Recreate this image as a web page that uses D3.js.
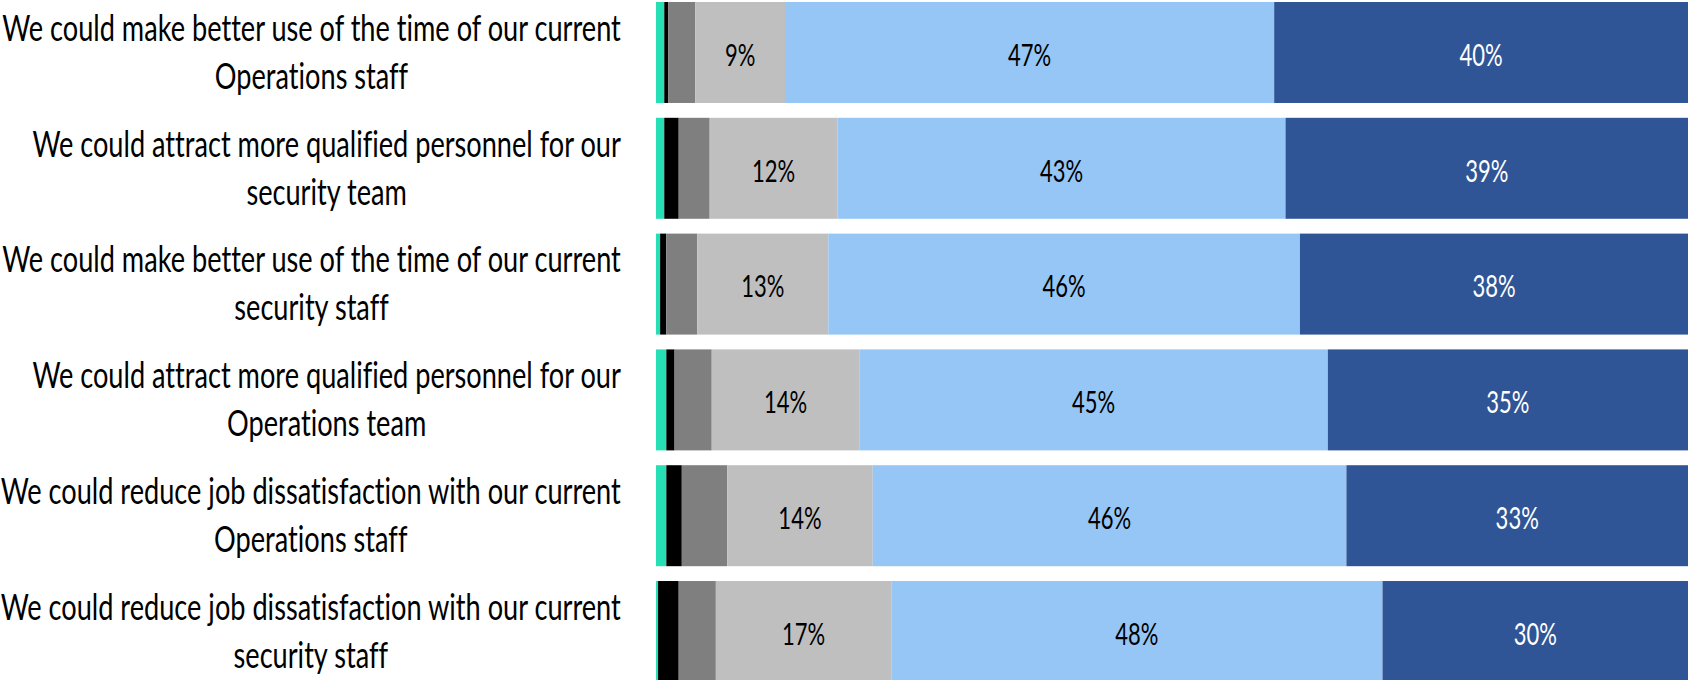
<!DOCTYPE html>
<html>
<head>
<meta charset="utf-8">
<script src="https://cdn.jsdelivr.net/npm/d3@7"></script>
<style>
    body { margin: 0; background: #fff; }
    text { font-family: Lato, "Open Sans", sans-serif; font-variant-ligatures: none; }
</style>
</head>
<body>
<div id="wrapper"></div>
<script>
const categories = [
    "We could make better use of the time of our current\nOperations staff",
    "We could attract more qualified personnel for our\nsecurity team",
    "We could make better use of the time of our current\nsecurity staff",
    "We could attract more qualified personnel for our\nOperations team",
    "We could reduce job dissatisfaction with our current\nOperations staff",
    "We could reduce job dissatisfaction with our current\nsecurity staff"
];
const seriesNames = ["Don't know", "Strongly disagree", "Disagree", "Neutral", "Agree", "Strongly agree"];
const dontKnow = [0.8, 0.8, 0.4, 1.0, 1.0, 0.2];
const stronglyDisagree = [0.4, 1.4, 0.6, 0.8, 1.5, 2.0];
const disagree = [2.6, 3.0, 3.0, 3.6, 4.4, 3.6];
const neutral = [8.7, 12.4, 12.7, 14.3, 14.1, 17.0];
const agree = [47.4, 43.4, 45.7, 45.4, 45.9, 47.6];
const stronglyAgree = [40.1, 39.0, 37.6, 34.9, 33.1, 29.6];

const colors = ["#27dfb4", "#000000", "#7f7f7f", "#bfbfbf", "#95c6f5", "#2f5597"];
const labelColors = ["#000", "#fff", "#000", "#000", "#000", "#fff"];

function chartDraw() {
    const seriesValues = [dontKnow, stronglyDisagree, disagree, neutral, agree, stronglyAgree];
    const dataset = categories.map((c, i) => {
        const row = { category: c };
        seriesNames.forEach((s, j) => row[s] = seriesValues[j][i]);
        return row;
    });

    var dimensions = {
        width: 1688,
        height: 680,
        margin: { top: 2, right: 0, bottom: -2, left: 656 },
    }
    dimensions.boundedWidth = dimensions.width - dimensions.margin.left - dimensions.margin.right
    dimensions.boundedHeight = dimensions.height - dimensions.margin.top - dimensions.margin.bottom

    const wrapper = d3.select("#wrapper").html("")
        .append("svg")
        .attr("width", dimensions.width)
        .attr("height", dimensions.height);

    // the original face is a condensed one, so squeeze text horizontally
    const probe = wrapper.append("text")
        .attr("font-size", "37px")
        .text(categories[0].split("\n")[0]);
    const squeeze = 619 / probe.node().getComputedTextLength();
    probe.remove();

    const bounds = wrapper.append("g")
        .attr("transform", `translate(${dimensions.margin.left},${dimensions.margin.top})`);

    const xScaler = d3.scaleLinear()
        .domain([0, 100])
        .range([0, dimensions.boundedWidth]);

    const yScaler = d3.scaleBand()
        .domain(categories)
        .range([0, dimensions.boundedHeight])
        .paddingInner(0.128)
        .paddingOuter(0);

    const stacked = d3.stack().keys(seriesNames)(dataset);

    const layers = bounds.append("g").selectAll("g")
        .data(stacked)
        .enter()
        .append("g")
        .attr("fill", (d, i) => colors[i]);

    layers.selectAll("rect")
        .data(d => d)
        .enter()
        .append("rect")
        .attr("x", d => xScaler(d[0]))
        .attr("y", d => yScaler(d.data.category))
        .attr("width", d => xScaler(d[1]) - xScaler(d[0]))
        .attr("height", yScaler.bandwidth());

    // value labels on the bigger segments
    layers.each(function (layer, i) {
        d3.select(this).selectAll("text")
            .data(layer.filter(d => d[1] - d[0] >= 5))
            .enter()
            .append("text")
            .attr("transform", d => `translate(${xScaler((d[0] + d[1]) / 2)},${yScaler(d.data.category) + yScaler.bandwidth() / 2 + 2}) scale(${squeeze},1)`)
            .attr("text-anchor", "middle")
            .attr("dominant-baseline", "central")
            .attr("fill", labelColors[i])
            .attr("font-size", "30px")
            .text(d => Math.round(d[1] - d[0]) + "%");
    });

    // category labels: block right-aligned, lines centred in block
    const labelRight = 621;
    const lineGap = 48;
    const catLabels = wrapper.append("g").selectAll("text")
        .data(categories)
        .enter()
        .append("text")
        .attr("fill", "#000")
        .attr("font-size", "37px")
        .attr("text-anchor", "middle");

    catLabels.each(function (c) {
        const lines = c.split("\n");
        const el = d3.select(this);
        const cy = dimensions.margin.top + yScaler(c) + yScaler.bandwidth() / 2;
        lines.forEach((line, i) => {
            el.append("tspan")
                .attr("x", 0)
                .attr("y", (i - (lines.length - 1) / 2) * lineGap - 2)
                .attr("dominant-baseline", "central")
                .text(line);
        });
        const widest = d3.max(el.selectAll("tspan").nodes(), n => n.getComputedTextLength()) * squeeze;
        el.attr("transform", `translate(${labelRight - widest / 2},${cy}) scale(${squeeze},1)`);
    });
}

chartDraw();
</script>
</body>
</html>
